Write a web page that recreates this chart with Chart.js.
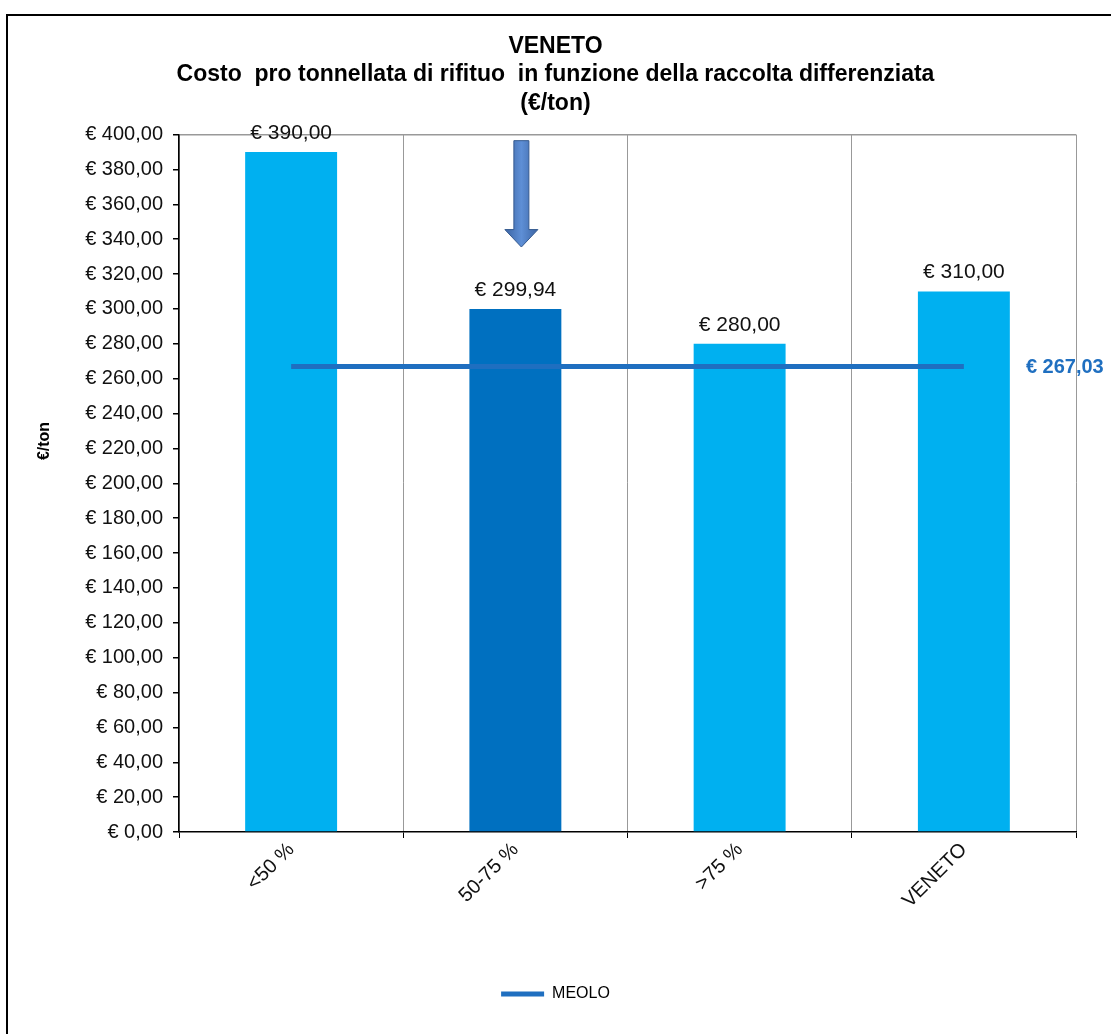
<!DOCTYPE html>
<html>
<head>
<meta charset="utf-8">
<script src="https://cdn.jsdelivr.net/npm/chart.js@4.4.0/dist/chart.umd.min.js"></script>
<style>
html,body{margin:0;padding:0;background:#fff;overflow:hidden;}
#frame{position:absolute;left:6px;top:14px;width:1200px;height:1200px;border-top:2px solid #000;border-left:2px solid #000;}
#wrap{position:absolute;left:0;top:0;width:1111px;height:1034px;}
</style>
</head>
<body>
<div id="frame"></div>
<div id="wrap"><canvas id="c" width="1111" height="1034"></canvas></div>
<script>
// ---- data ----
const categories = ['<50 %', '50-75 %', '>75 %', 'VENETO'];
const costValues = [390.00, 299.94, 280.00, 310.00];
const meoloValues = [267.03, 267.03, 267.03, 267.03];
const meoloLabel = 'MEOLO';
const titleLines = ['VENETO', 'Costo  pro tonnellata di rifituo  in funzione della raccolta differenziata', '(€/ton)'];
const yAxisTitle = '€/ton';
const yMin = 0, yMax = 400, yStep = 20;

const FONT = "'Liberation Sans', Arial, sans-serif";
const fmt = v => '€ ' + v.toFixed(2).replace('.', ',');

const barColors = ['#00B0F0', '#0070C0', '#00B0F0', '#00B0F0'];
const lineColor = '#1F6FC0';

const overlayPlugin = {
  id: 'overlay',
  afterDatasetsDraw(chart) {
    const ctx = chart.ctx;
    const xs = chart.scales.x, ys = chart.scales.y;
    // value labels above bars
    const meta = chart.getDatasetMeta(1);
    ctx.save();
    ctx.font = '21px ' + FONT;
    ctx.fillStyle = '#111';
    ctx.textAlign = 'center';
    ctx.textBaseline = 'middle';
    meta.data.forEach((bar, i) => {
      ctx.fillText(fmt(costValues[i]), bar.x, bar.y - 19);
    });
    // MEOLO value label at the right
    const last = meoloValues.length - 1;
    ctx.font = 'bold 20px ' + FONT;
    ctx.fillStyle = lineColor;
    ctx.textAlign = 'left';
    ctx.fillText(fmt(meoloValues[last]), xs.getPixelForValue(last) + 62, ys.getPixelForValue(meoloValues[last]) + 1);
    // y axis title
    ctx.save();
    ctx.translate(45, 441);
    ctx.rotate(-Math.PI / 2);
    ctx.font = 'bold 16px ' + FONT;
    ctx.fillStyle = '#000';
    ctx.textAlign = 'center';
    ctx.textBaseline = 'middle';
    ctx.fillText(yAxisTitle, 0, 0);
    ctx.restore();
    // arrow over the 50-75 % category
    const cx = xs.getPixelForValue(1) + 6;
    const yTop = ys.getPixelForValue(396.5);
    const yHead = ys.getPixelForValue(345.5);
    const yTip = ys.getPixelForValue(335.5);
    const sw = 7.5, hw = 16.5;
    const g = ctx.createLinearGradient(cx - hw, 0, cx + hw, 0);
    g.addColorStop(0, '#3B64A3');
    g.addColorStop(0.5, '#5E8FD6');
    g.addColorStop(1, '#3B64A3');
    ctx.beginPath();
    ctx.moveTo(cx - sw, yTop);
    ctx.lineTo(cx + sw, yTop);
    ctx.lineTo(cx + sw, yHead);
    ctx.lineTo(cx + hw, yHead);
    ctx.lineTo(cx, yTip);
    ctx.lineTo(cx - hw, yHead);
    ctx.lineTo(cx - sw, yHead);
    ctx.closePath();
    ctx.fillStyle = g;
    ctx.fill();
    ctx.strokeStyle = '#34598F';
    ctx.lineWidth = 1;
    ctx.stroke();
    ctx.restore();
  }
};

new Chart(document.getElementById('c'), {
  data: {
    labels: categories,
    datasets: [
      {
        type: 'line',
        label: meoloLabel,
        data: meoloValues,
        borderColor: lineColor,
        backgroundColor: lineColor,
        borderWidth: 5,
        pointRadius: 0,
        pointHoverRadius: 0,
        order: 0
      },
      {
        type: 'bar',
        label: 'Costo',
        data: costValues,
        backgroundColor: barColors,
        borderWidth: 0,
        barPercentage: 0.41,
        categoryPercentage: 1,
        order: 1
      }
    ]
  },
  options: {
    responsive: false,
    animation: false,
    events: [],
    layout: { padding: { left: 0, right: 0, top: 0, bottom: 22 } },
    plugins: {
      title: {
        display: true,
        text: titleLines,
        color: '#000',
        font: { family: FONT, size: 23, weight: 'bold', lineHeight: 1.24 },
        padding: { top: 32, bottom: 17 }
      },
      legend: {
        position: 'bottom',
        labels: {
          filter: item => item.text === meoloLabel,
          usePointStyle: true,
          pointStyle: 'line',
          pointStyleWidth: 43,
          color: '#000',
          font: { family: FONT, size: 16 },
          padding: 10
        }
      },
      tooltip: { enabled: false }
    },
    scales: {
      x: {
        offset: true,
        afterFit: s => { s.height = 144; },
        grid: {
          offset: true,
          color: '#999',
          tickColor: '#000',
          tickLength: 6,
          lineWidth: 1
        },
        border: { color: '#000', width: 1.5 },
        ticks: {
          minRotation: 45,
          maxRotation: 45,
          color: '#111',
          font: { family: FONT, size: 20 },
          padding: 0
        }
      },
      y: {
        min: yMin,
        max: yMax,
        afterFit: s => { s.width = 179; },
        grid: {
          color: c => (c.tick && c.tick.value === yMax) ? '#999' : 'rgba(0,0,0,0)',
          tickColor: '#000',
          tickLength: 6,
          lineWidth: 1.5
        },
        border: { color: '#000', width: 1.5 },
        ticks: {
          stepSize: yStep,
          color: '#111',
          font: { family: FONT, size: 20 },
          padding: 10,
          callback: v => fmt(v)
        }
      },
      yRight: {
        type: 'linear',
        position: 'right',
        display: true,
        afterFit: s => { s.width = 35; },
        grid: { display: false, drawTicks: false },
        border: { display: false },
        ticks: { display: false }
      }
    }
  },
  plugins: [overlayPlugin]
});
</script>
</body>
</html>
